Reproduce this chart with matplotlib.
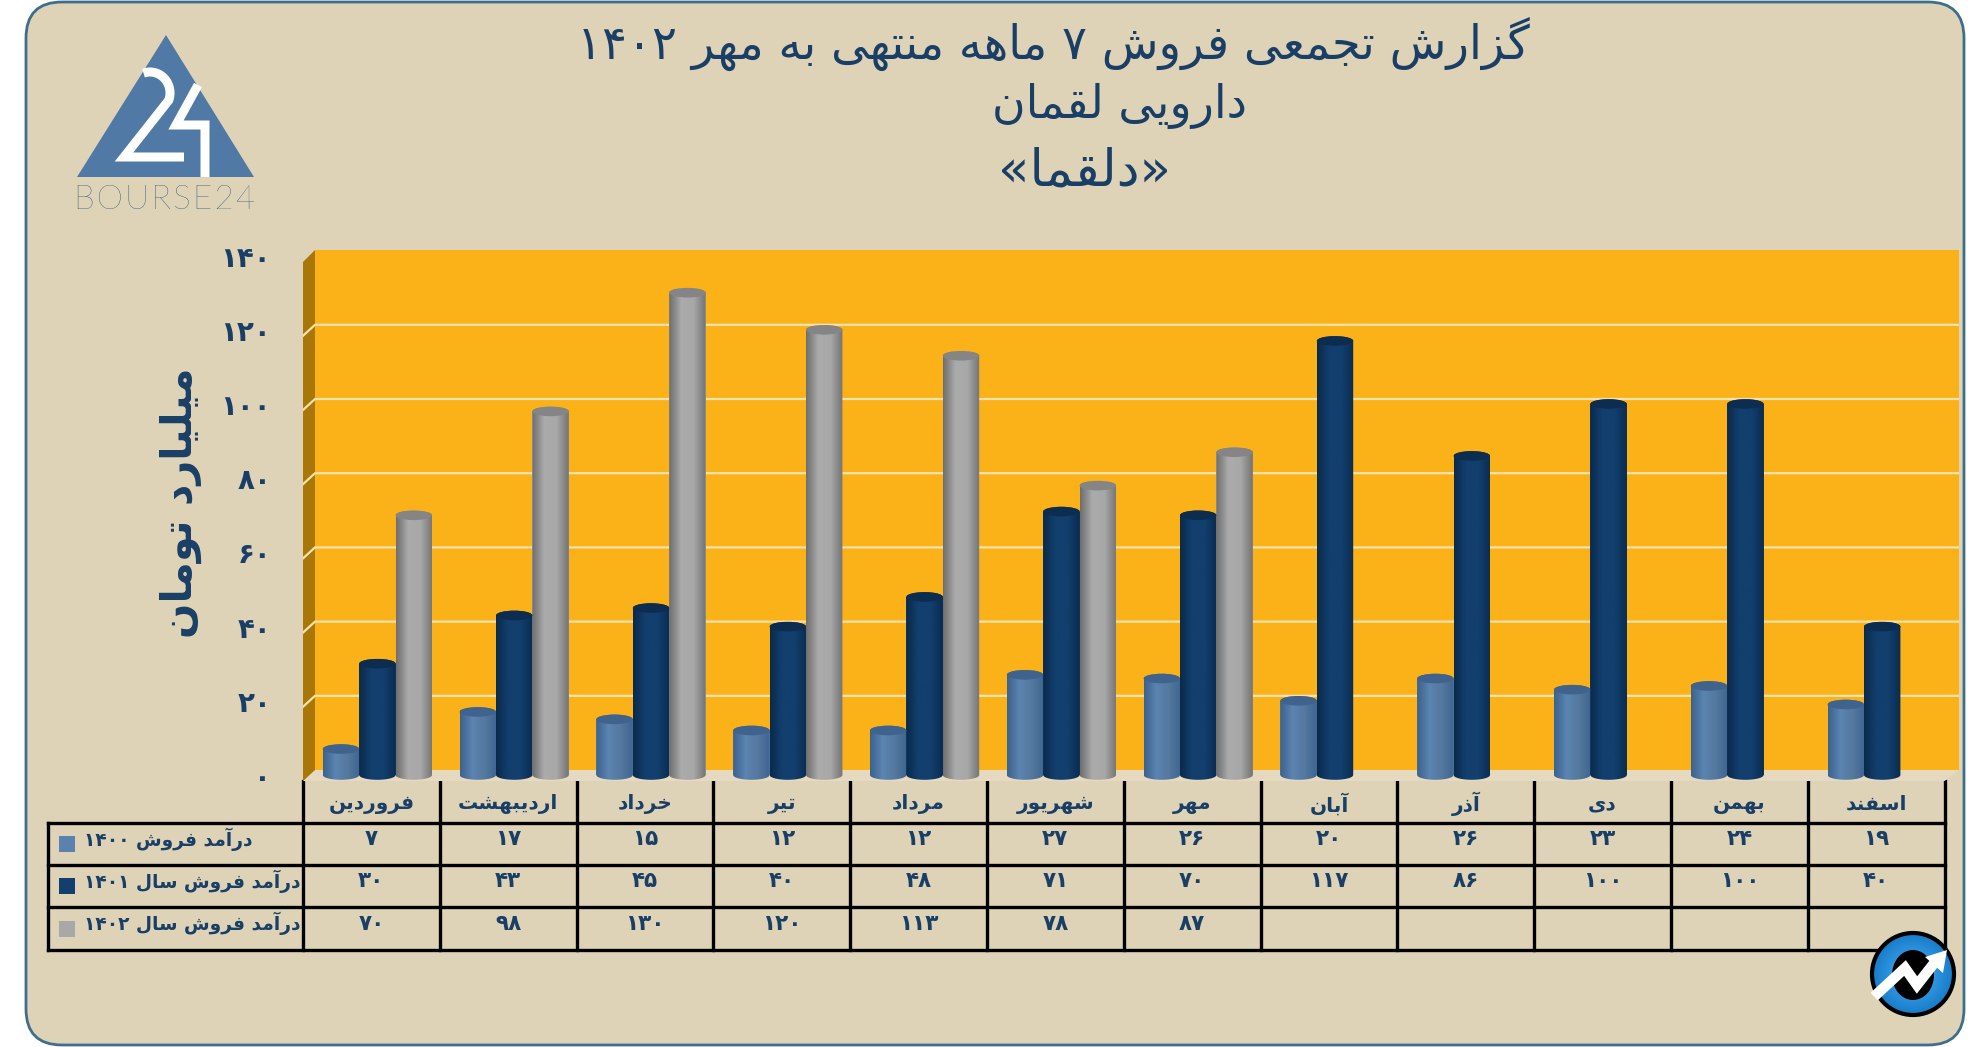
import re
import matplotlib
matplotlib.use('Agg')
import matplotlib.pyplot as plt
import numpy as np
from matplotlib.colors import LinearSegmentedColormap
from matplotlib.patches import Circle, Ellipse, FancyBboxPatch, PathPatch, Polygon
from matplotlib.path import Path

# Table / chart data
months = ['فروردین', 'اردیبهشت', 'خرداد', 'تیر', 'مرداد', 'شهریور', 'مهر',
          'آبان', 'آذر', 'دی', 'بهمن', 'اسفند']
sales_1400 = [7, 17, 15, 12, 12, 27, 26, 20, 26, 23, 24, 19]
sales_1401 = [30, 43, 45, 40, 48, 71, 70, 117, 86, 100, 100, 40]
sales_1402 = [70, 98, 130, 120, 113, 78, 87]
row_labels = ['درآمد فروش ۱۴۰۰', 'درآمد فروش سال ۱۴۰۱', 'درآمد فروش سال ۱۴۰۲']
y_ticks = [0, 20, 40, 60, 80, 100, 120, 140]

title_1 = 'گزارش تجمعی فروش ۷ ماهه منتهی به مهر ۱۴۰۲'
title_2 = 'دارویی لقمان'
title_3 = '«دلقما»'
y_title = 'میلیارد تومان'

NAVY = '#1A3F66'
BG = '#DED3B7'

# matplotlib does not shape arabic script, so map letters to presentation forms
FORMS = {
    'ا': (0xFE8D, 0xFE8E), 'آ': (0xFE81, 0xFE82), 'د': (0xFEA9, 0xFEAA), 'ذ': (0xFEAB, 0xFEAC),
    'ر': (0xFEAD, 0xFEAE), 'ز': (0xFEAF, 0xFEB0), 'و': (0xFEED, 0xFEEE),
    'ب': (0xFE8F, 0xFE90, 0xFE91, 0xFE92), 'ت': (0xFE95, 0xFE96, 0xFE97, 0xFE98),
    'ج': (0xFE9D, 0xFE9E, 0xFE9F, 0xFEA0), 'خ': (0xFEA5, 0xFEA6, 0xFEA7, 0xFEA8),
    'س': (0xFEB1, 0xFEB2, 0xFEB3, 0xFEB4), 'ش': (0xFEB5, 0xFEB6, 0xFEB7, 0xFEB8),
    'ع': (0xFEC9, 0xFECA, 0xFECB, 0xFECC), 'ف': (0xFED1, 0xFED2, 0xFED3, 0xFED4),
    'ق': (0xFED5, 0xFED6, 0xFED7, 0xFED8), 'گ': (0xFB92, 0xFB93, 0xFB94, 0xFB95),
    'ل': (0xFEDD, 0xFEDE, 0xFEDF, 0xFEE0), 'م': (0xFEE1, 0xFEE2, 0xFEE3, 0xFEE4),
    'ن': (0xFEE5, 0xFEE6, 0xFEE7, 0xFEE8), 'ه': (0xFEE9, 0xFEEA, 0xFEEB, 0xFEEC),
    'ی': (0xFBFC, 0xFBFD, 0xFBFE, 0xFBFF),
}


def fa(text):
    out = ''
    for i, c in enumerate(text):
        if c not in FORMS:
            out += c
            continue
        prev = text[i - 1] if i > 0 else ''
        nxt = text[i + 1] if i + 1 < len(text) else ''
        f = FORMS[c]
        joined_before = prev in FORMS and len(FORMS[prev]) == 4
        joined_after = nxt in FORMS and len(f) == 4
        if joined_before and joined_after:
            out += chr(f[3])
        elif joined_before:
            out += chr(f[1])
        elif joined_after:
            out += chr(f[2])
        else:
            out += chr(f[0])
    parts = re.split('([۰-۹]+)', out)
    vis = ''
    for p in reversed(parts):
        if re.fullmatch('[۰-۹]+', p):
            vis += p
        else:
            vis += p[::-1]
    return vis.translate(str.maketrans('«»', '»«'))


def fa_num(n):
    return fa(str(n).translate(str.maketrans('0123456789', '۰۱۲۳۴۵۶۷۸۹')))


W, H = 1986, 1047
plt.rcParams['font.family'] = ['DejaVu Sans']
fig = plt.figure(figsize=(W / 100, H / 100), dpi=100, facecolor='white')

# full figure axes in pixels, for the card, logos and table
bg = fig.add_axes([0, 0, 1, 1], zorder=0)
bg.set_xlim(0, W)
bg.set_ylim(H, 0)
bg.axis('off')

bg.add_patch(FancyBboxPatch((26, 2), 1938, 1043, boxstyle='round,pad=0,rounding_size=36',
                            fc=BG, ec='#3F6D8C', lw=2))

# titles
bg.text(1053, 44, fa(title_1), color=NAVY, fontsize=33.5, ha='center', va='center')
bg.text(1120, 106, fa(title_2), color=NAVY, fontsize=33, ha='center', va='center')
bg.text(1084, 172, fa(title_3), color=NAVY, fontsize=37, ha='center', va='center')
bg.text(181, 503, fa(y_title), color=NAVY, fontsize=30, fontweight='bold', rotation=90,
        ha='center', va='center')

# bourse24 logo
bg.add_patch(Polygon([(166, 35), (77, 177), (254, 177)], fc='#5079A5', ec='none'))
t = np.linspace(-1.9, 0.35, 30)
two_x = list(150 + 20 * np.cos(t)) + [124, 184]
two_y = list(93 + 21 * np.sin(t)) + [157, 157]
bg.plot(two_x, two_y, color='white', lw=6.5, solid_joinstyle='miter', solid_capstyle='butt')
bg.plot([198, 176, 205, 205], [85, 125, 125, 177], color='white', lw=6.5,
        solid_joinstyle='miter', solid_capstyle='butt')
bg.text(165, 200, '\u200a'.join('BOURSE24'), color=NAVY, fontsize=24, family='Lato',
        fontweight='light', ha='center', va='center')

# table
x0_tbl, cell_w = 303, 136.8
rows_y = [823, 865, 907, 950]
bg.plot([48, x0_tbl + 12 * cell_w], [rows_y[0]] * 2, color='black', lw=2.4)
for y in rows_y[1:]:
    bg.plot([48, x0_tbl + 12 * cell_w], [y, y], color='black', lw=2.4)
bg.plot([48, 48], [rows_y[0], rows_y[-1]], color='black', lw=2.4)
for i in range(13):
    xx = x0_tbl + i * cell_w
    bg.plot([xx, xx], [781, rows_y[-1]], color='black', lw=2.4)

series = [sales_1400, sales_1401, sales_1402]
swatches = ['#5B82AE', '#123F6D', '#A8A8A8']
for r, vals in enumerate(series):
    yc = (rows_y[r] + rows_y[r + 1]) / 2 - 5
    bg.text(84, yc, fa(row_labels[r]), color=NAVY, fontsize=13.4, fontweight='bold',
            ha='left', va='center')
    bg.add_patch(plt.Rectangle((59, yc - 3), 16, 16, fc=swatches[r], ec='none'))
    for i, v in enumerate(vals):
        bg.text(x0_tbl + (i + 0.5) * cell_w, yc, fa_num(v), color=NAVY, fontsize=15.5,
                fontweight='bold', ha='center', va='center')
for i, m in enumerate(months):
    bg.text(x0_tbl + (i + 0.5) * cell_w, 804, fa(m), color=NAVY, fontsize=14.5, fontweight='bold',
            ha='center', va='center')

# round icon at the bottom right
cx, cy, rad = 1913, 974, 41
gx, gy = np.meshgrid(np.linspace(-1, 1, 120), np.linspace(-1, 1, 120))
cmap_ic = LinearSegmentedColormap.from_list('ic', ['#8CCBF0', '#2F94DE', '#1276C4'])
im = bg.imshow(np.sqrt(gx ** 2 + gy ** 2), extent=(cx - rad, cx + rad, cy + rad, cy - rad),
               cmap=cmap_ic, vmin=0, vmax=1.1, aspect='auto', zorder=3)
ring = Circle((cx, cy), rad, fc='none', ec='black', lw=3, zorder=4)
bg.add_patch(ring)
im.set_clip_path(ring)
bg.add_patch(Ellipse((cx, cy + 1), 42, 50, fc='black', ec='none', zorder=4))
bg.plot([1878, 1905, 1917, 1935], [993, 968, 985, 962], color='white', lw=7.5,
        solid_joinstyle='miter', zorder=5)
bg.add_patch(Polygon([(1947, 950), (1925, 957), (1943, 973)], fc='white', ec='none', zorder=5))
bg.set_xlim(0, W)
bg.set_ylim(H, 0)

# plot axes: wall + bars, 3.71 px per unit, zero at y=775 on the front plane
px_unit = 3.71
left, right, top, bottom = 303, 1959, 250, 781
ax = fig.add_axes([left / W, 1 - bottom / H, (right - left) / W, (bottom - top) / H], zorder=1)
ax.patch.set_alpha(0)
for s in ax.spines.values():
    s.set_visible(False)
x_max = (right - left) / cell_w
y_lo = -(bottom - 775) / px_unit
y_hi = (775 - top) / px_unit
depth_x = 12 / cell_w
wall_lift = 5 / px_unit

ax.add_patch(Polygon([(0, y_lo), (depth_x, wall_lift), (x_max, wall_lift), (12, y_lo)],
                     fc='#E5DAC0', ec='none', zorder=1))
ax.add_patch(Polygon([(depth_x, wall_lift), (depth_x, y_hi), (x_max, y_hi), (x_max, wall_lift)],
                     fc='#FBB118', ec='none', zorder=1))
ax.add_patch(Polygon([(0, y_lo), (0, y_hi - 12 / px_unit), (depth_x, y_hi), (depth_x, wall_lift)],
                     fc='#A97608', ec='none', zorder=1))
for v in y_ticks[1:-1]:
    ax.plot([0, depth_x, x_max], [v + y_lo, v + wall_lift, v + wall_lift], color='#F6E2AE',
            lw=1.6, zorder=2)


def cylinder(xc, value, width, stops, top_color):
    h = 4.8 / px_unit
    ax.bar(xc, value, width, color=stops[1], zorder=3)
    tt = np.linspace(0, np.pi, 40)
    xs = xc - width / 2 * np.cos(tt)
    lower = np.column_stack([xs, -h * np.sin(tt)])
    upper = np.column_stack([xs[::-1], value + h * np.sin(tt)])
    outline = Path(np.vstack([lower, upper, lower[:1]]), closed=True)
    clip = PathPatch(outline, transform=ax.transData, fc='none', ec='none')
    ax.add_patch(clip)
    cm = LinearSegmentedColormap.from_list('c', stops)
    im = ax.imshow(np.linspace(0, 1, 64).reshape(1, -1),
                   extent=(xc - width / 2, xc + width / 2, -h, value + h),
                   cmap=cm, aspect='auto', zorder=3.5)
    im.set_clip_path(clip)
    ax.add_patch(Ellipse((xc, value), width, 2 * h, fc=top_color, ec='none', zorder=4))


bar_w = 36.4 / cell_w
bar_styles = [
    (['#3C628E', '#5B84B1', '#55799F', '#3F6691'], '#3F638C'),
    (['#0A2A4C', '#123F6E', '#123F6E', '#0B2C50'], '#0C2D50'),
    (['#6E6E6E', '#ABABAB', '#A8A8A8', '#747474'], '#858585'),
]
for s, vals in enumerate(series):
    for i, v in enumerate(vals):
        xc = i + 0.5 + 6 / cell_w + (s - 1) * bar_w
        cylinder(xc, v, bar_w, bar_styles[s][0], bar_styles[s][1])

ax.set_xlim(0, x_max)
ax.set_ylim(y_lo, y_hi)
ax.set_xticks([])
ax.set_yticks(y_ticks)
ax.set_yticklabels([fa_num(v) for v in y_ticks], color=NAVY, fontsize=20, fontweight='bold')
ax.tick_params(axis='y', length=0, pad=23)

plt.savefig('out.png', dpi=100)
